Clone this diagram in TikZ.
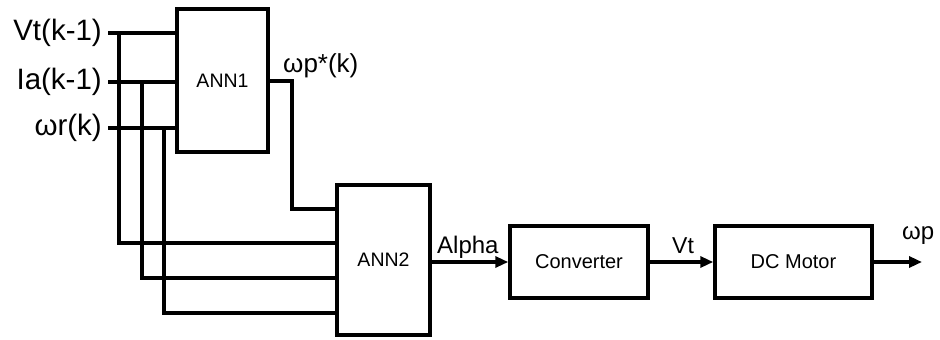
\documentclass[tikz,border=0pt]{standalone}
\usepackage{fontspec}
\setmainfont{Liberation Sans}
\usetikzlibrary{arrows.meta}
\begin{document}
\begin{tikzpicture}[x=1pt,y=-1pt,
  blockbox/.style={draw, line width=3.5pt, inner sep=0pt, font=\fontsize{20}{24}\selectfont},
  wire/.style={line width=3.2pt},
  arrowwire/.style={wire, -{Triangle[length=13pt,width=11pt]}},
  inlabel/.style={anchor=east, inner xsep=6pt, inner ysep=0pt, font=\fontsize{29.5}{33}\selectfont},
  siglabel/.style={inner sep=0pt, font=\fontsize{23}{27}\selectfont}]
\useasboundingbox (0,0) rectangle (940,340);
% blocks
\node[blockbox, minimum width=91pt, minimum height=143pt, font=\fontsize{19.5}{22}\selectfont] (ann1) at (222.5,80.5) {ANN1};
\node[blockbox, minimum width=93pt, minimum height=150pt, font=\fontsize{19.5}{22}\selectfont] (ann2) at (383.5,260) {ANN2};
\node[blockbox, minimum width=138pt, minimum height=72pt] (conv) at (579,262) {Converter};
\node[blockbox, minimum width=157pt, minimum height=72pt] (motor) at (793.5,262) {DC Motor};
% input labels
\node[inlabel] (vt) at (108,33) {Vt(k-1)};
\node[inlabel] (ia) at (108,82) {Ia(k-1)};
\node[inlabel] (wr) at (108,128) {ωr(k)};
% junctions and rows
\coordinate (vtj) at (119,33);
\coordinate (iaj) at (142,82);
\coordinate (wrj) at (164,128);
\coordinate (r0) at (0,209);
\coordinate (r1) at (0,243);
\coordinate (r2) at (0,278);
\coordinate (r3) at (0,313);
\coordinate (o1) at (292,81);
\coordinate (out) at (922,262);
% wires into ANN1
\draw[wire] (vt.east) -- (vt.east -| ann1.west);
\draw[wire] (ia.east) -- (ia.east -| ann1.west);
\draw[wire] (wr.east) -- (wr.east -| ann1.west);
% wires into ANN2
\draw[wire] (vtj) |- (ann2.west |- r1);
\draw[wire] (iaj) |- (ann2.west |- r2);
\draw[wire] (wrj) |- (ann2.west |- r3);
\draw[wire] (ann1.east |- o1) -- (o1) |- (ann2.west |- r0);
% forward path
\draw[arrowwire] (ann2.east |- conv.west) -- (conv.west);
\draw[arrowwire] (conv.east) -- (motor.west);
\draw[arrowwire] (motor.east) -- (out);
% signal labels
\node[siglabel, anchor=west, font=\fontsize{26}{30}\selectfont] (wps) at (283,66) {ωp*(k)};
\node[siglabel, anchor=base west, font=\fontsize{24}{28}\selectfont] (alpha) at (437,253) {Alpha};
\node[siglabel, anchor=base west] (vtl) at (672,253) {Vt};
\node[siglabel, anchor=base west, font=\fontsize{24}{28}\selectfont] (wp) at (902,239.5) {ωp};
\end{tikzpicture}
\end{document}
